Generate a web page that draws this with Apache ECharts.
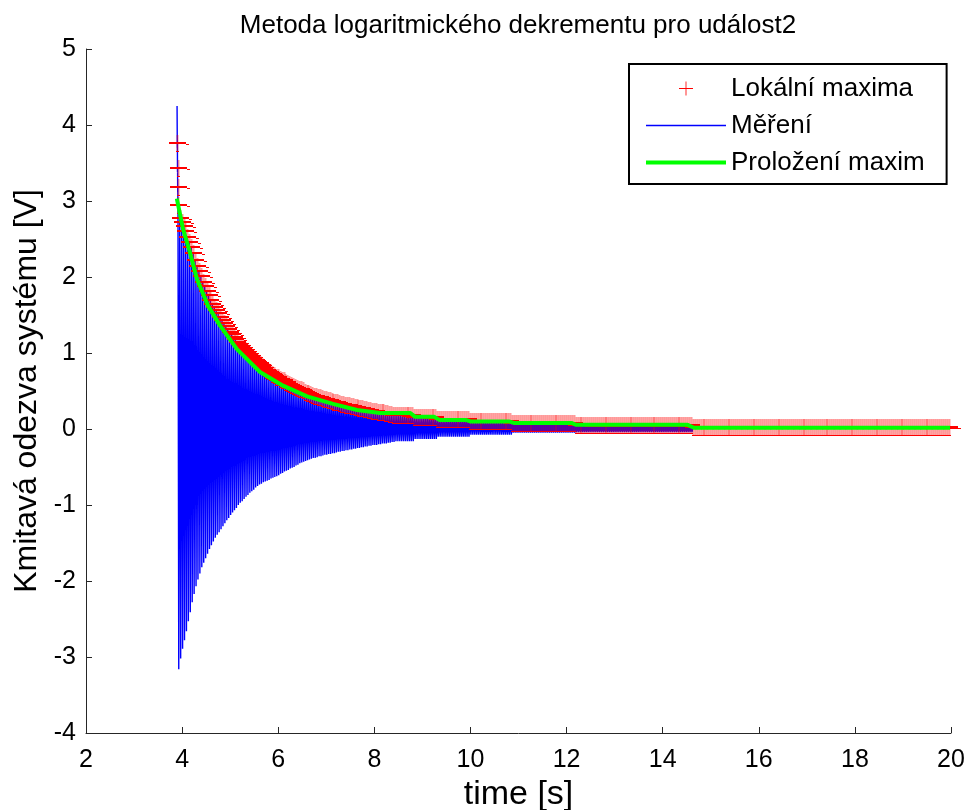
<!DOCTYPE html>
<html>
<head>
<meta charset="utf-8">
<script src="https://cdn.jsdelivr.net/npm/echarts@6/dist/echarts.min.js"></script>
<style>
  html, body { margin: 0; padding: 0; background: #ffffff; }
  #chart { width: 970px; height: 810px; }
</style>
</head>
<body>
<div id="chart"></div>
<script>
// Axis ticks
const xTicks = [2, 4, 6, 8, 10, 12, 14, 16, 18, 20];
const yTicks = [-4, -3, -2, -1, 0, 1, 2, 3, 4, 5];

// Onset of the record: first spike and its falling edge (with small ripples)
const onsetTime  = [3.895, 3.900, 3.902, 3.904, 3.906, 3.908, 3.910, 3.912, 3.914, 3.930];
const onsetValue = [4.25, 3.70, 3.76, 3.38, 3.43, 3.12, 3.18, 2.90, 2.95, -3.16];

// Oscillation cycles after the onset: one maximum and one minimum per cycle
const cycleStart = 3.95;   // s, first regular maximum
const cyclePeriod = 0.04;  // s

// Decaying part, value of every cycle's maximum [V]
const peakValues = [
  2.78, 2.73, 2.67, 2.60, 2.53, 2.46, 2.39, 2.31, 2.23, 2.15,
  2.08, 2.01, 1.94, 1.88, 1.82, 1.76, 1.70, 1.65, 1.61, 1.56,
  1.52, 1.47, 1.43, 1.39, 1.35, 1.31, 1.28, 1.25, 1.21, 1.18,
  1.15, 1.12, 1.09, 1.06, 1.04, 1.01, 0.99, 0.96, 0.94, 0.91,
  0.89, 0.87, 0.85, 0.83, 0.80, 0.78, 0.76, 0.75, 0.73, 0.71,
  0.69, 0.68, 0.66, 0.65, 0.64, 0.62, 0.60, 0.59, 0.58, 0.57,
  0.55, 0.54, 0.53, 0.52, 0.51, 0.49, 0.48, 0.47, 0.46, 0.45,
  0.44, 0.43, 0.42, 0.42, 0.41, 0.40, 0.39, 0.38, 0.38, 0.37,
  0.36, 0.35, 0.35, 0.34, 0.33, 0.33, 0.32, 0.32, 0.31, 0.30,
  0.30, 0.29, 0.29, 0.28, 0.27, 0.27, 0.26, 0.26, 0.25, 0.25,
  0.24, 0.24, 0.24, 0.23, 0.23, 0.22, 0.22, 0.21, 0.21, 0.20,
  0.20, 0.19
];
// Decaying part, value of every cycle's minimum [V]
const troughValues = [
  -3.02, -2.89, -2.78, -2.66, -2.53, -2.41, -2.28, -2.17, -2.07, -1.98,
  -1.90, -1.82, -1.76, -1.70, -1.64, -1.58, -1.53, -1.48, -1.43, -1.39,
  -1.36, -1.32, -1.28, -1.24, -1.20, -1.17, -1.13, -1.10, -1.07, -1.04,
  -1.00, -0.97, -0.95, -0.92, -0.89, -0.87, -0.84, -0.82, -0.80, -0.77,
  -0.75, -0.73, -0.72, -0.70, -0.69, -0.68, -0.67, -0.65, -0.64, -0.63,
  -0.62, -0.61, -0.59, -0.58, -0.56, -0.55, -0.54, -0.52, -0.51, -0.50,
  -0.48, -0.47, -0.45, -0.44, -0.43, -0.42, -0.41, -0.40, -0.39, -0.38,
  -0.38, -0.37, -0.36, -0.36, -0.35, -0.34, -0.34, -0.33, -0.33, -0.32,
  -0.32, -0.31, -0.30, -0.30, -0.29, -0.29, -0.28, -0.28, -0.27, -0.27,
  -0.26, -0.26, -0.25, -0.25, -0.24, -0.24, -0.23, -0.23, -0.22, -0.22,
  -0.21, -0.21, -0.21, -0.20, -0.20, -0.19, -0.19, -0.19, -0.18, -0.18,
  -0.17, -0.17
];

// Quantised tail: runs of cycles that share the same max / min level [V]
const plateauCycles = [10, 12, 17, 22, 33, 61, 134];
const plateauPeak   = [0.19, 0.16, 0.13, 0.105, 0.08, 0.055, 0.02];
const plateauTrough = [-0.16, -0.13, -0.10, -0.075, -0.05, -0.04, 0.005];

// Exponential fit through the maxima
const fitTime  = [3.89, 4.02, 4.16, 4.31, 4.54, 4.79, 5.14, 5.62, 6.10, 6.60, 7.14, 7.64,
                  8.12, 8.75, 8.85, 9.25, 9.35, 9.90, 10.00, 10.80, 10.90, 12.10, 12.20,
                  14.52, 14.65, 19.98];
const fitValue = [3.03, 2.63, 2.33, 1.97, 1.62, 1.36, 1.05, 0.75, 0.57, 0.43, 0.33, 0.25,
                  0.21, 0.21, 0.16, 0.16, 0.12, 0.12, 0.10, 0.10, 0.08, 0.08, 0.055,
                  0.055, 0.017, 0.017];

// ---- assemble the measured signal ----
const cycleMax = peakValues.slice();
const cycleMin = troughValues.slice();
plateauCycles.forEach((n, i) => {
  for (let j = 0; j < n; j++) { cycleMax.push(plateauPeak[i]); cycleMin.push(plateauTrough[i]); }
});

const signal = onsetTime.map((t, i) => [t, onsetValue[i]]);
cycleMax.forEach((v, k) => {
  const t = cycleStart + k * cyclePeriod;
  signal.push([+t.toFixed(4), v]);
  signal.push([+(t + cyclePeriod / 2).toFixed(4), cycleMin[k]]);
});

// local maxima of the measured signal
const maxima = [];
for (let i = 1; i < signal.length - 1; i++) {
  if (signal[i][1] > signal[i - 1][1] && signal[i][1] > signal[i + 1][1]) maxima.push(signal[i]);
}
const fit = fitTime.map((t, i) => [t, fitValue[i]]);

const FONT = "'Liberation Sans', Arial, Helvetica, sans-serif";
const RED = '#ff0000', BLUE = '#0000ff', GREEN = '#00ff00';
const RED_THIN = 'rgba(255,0,0,0.4)';

// '+' marker: horizontal arm, vertical arm and the two small ticks of the glyph
function armRect(x, y, w, h, color) {
  return { type: 'rect', shape: { x: x, y: y, width: w, height: h },
           style: { fill: color, stroke: null, lineWidth: 0 } };
}
function renderPlus(params, api) {
  const p = api.coord([api.value(0), api.value(1)]);
  const x = Math.round(p[0]), y = Math.round(p[1]);
  return {
    type: 'group',
    children: [
      armRect(x - 0.5, y - 8, 2, 17, RED_THIN),
      armRect(x - 8, y - 1, 17, 2, RED),
      armRect(x + 9, y + 1, 3, 1, RED),
      armRect(x - 1, y + 8, 3, 1, RED)
    ]
  };
}

const chart = echarts.init(document.getElementById('chart'), null, { renderer: 'canvas' });
chart.setOption({
  animation: false,
  backgroundColor: '#ffffff',
  title: {
    text: 'Metoda logaritmického dekrementu pro událost2',
    left: 513, top: 8, textAlign: 'center',
    textStyle: { fontFamily: FONT, fontSize: 26, fontWeight: 'normal', color: '#000' }
  },
  grid: { left: 86, right: 19, top: 49, bottom: 77, containLabel: false, outerBoundsMode: 'none' },
  legend: {
    orient: 'vertical',
    left: 629, top: 64,
    padding: [9, 22, 6, 17],
    itemGap: 6,
    itemWidth: 80, itemHeight: 14,
    backgroundColor: '#ffffff',
    borderColor: '#000000', borderWidth: 2,
    textStyle: { fontFamily: FONT, fontSize: 26, color: '#000', lineHeight: 31 },
    data: [
      { name: 'Lokální maxima', icon: 'path://M0,8H17V9H0Z M8,0H9V17H8Z',
        itemStyle: { color: RED, borderWidth: 0 } },
      { name: 'Měření', icon: 'path://M0,0H80V1.5H0Z',
        itemStyle: { color: BLUE, borderWidth: 0 }, lineStyle: { width: 0 } },
      { name: 'Proložení maxim', icon: 'path://M0,0H80V4H0Z',
        itemStyle: { color: GREEN, borderWidth: 0 }, lineStyle: { width: 0 } }
    ]
  },
  xAxis: {
    type: 'value',
    min: xTicks[0], max: xTicks[xTicks.length - 1], interval: xTicks[1] - xTicks[0],
    name: 'time [s]', nameLocation: 'middle', nameGap: 38,
    nameTextStyle: { fontFamily: FONT, fontSize: 34, color: '#000' },
    axisLine: { onZero: false, lineStyle: { color: '#262626', width: 1 } },
    axisTick: { inside: true, length: 6, lineStyle: { color: '#262626' } },
    axisLabel: { fontFamily: FONT, fontSize: 25, color: '#000', margin: 15 },
    splitLine: { show: false }
  },
  yAxis: {
    type: 'value',
    min: yTicks[0], max: yTicks[yTicks.length - 1], interval: yTicks[1] - yTicks[0],
    name: 'Kmitavá odezva systému [V]', nameLocation: 'middle', nameGap: 38,
    nameTextStyle: { fontFamily: FONT, fontSize: 32, color: '#000' },
    axisLine: { onZero: false, lineStyle: { color: '#262626', width: 1 } },
    axisTick: { inside: true, length: 6, lineStyle: { color: '#262626' } },
    axisLabel: { fontFamily: FONT, fontSize: 25, color: '#000', margin: 10, padding: [6, 0, 0, 0] },
    splitLine: { show: false }
  },
  series: [
    {
      name: 'Měření', type: 'line', data: signal,
      showSymbol: false, symbol: 'none', sampling: null,
      lineStyle: { color: BLUE, width: 1.4 }, itemStyle: { color: BLUE },
      z: 2
    },
    {
      name: 'Lokální maxima', type: 'custom', data: maxima,
      renderItem: renderPlus, itemStyle: { color: RED },
      z: 3
    },
    {
      name: 'Proložení maxim', type: 'line', data: fit,
      showSymbol: false, symbol: 'none',
      lineStyle: { color: GREEN, width: 4 }, itemStyle: { color: GREEN },
      z: 4
    }
  ]
});
</script>
</body>
</html>
